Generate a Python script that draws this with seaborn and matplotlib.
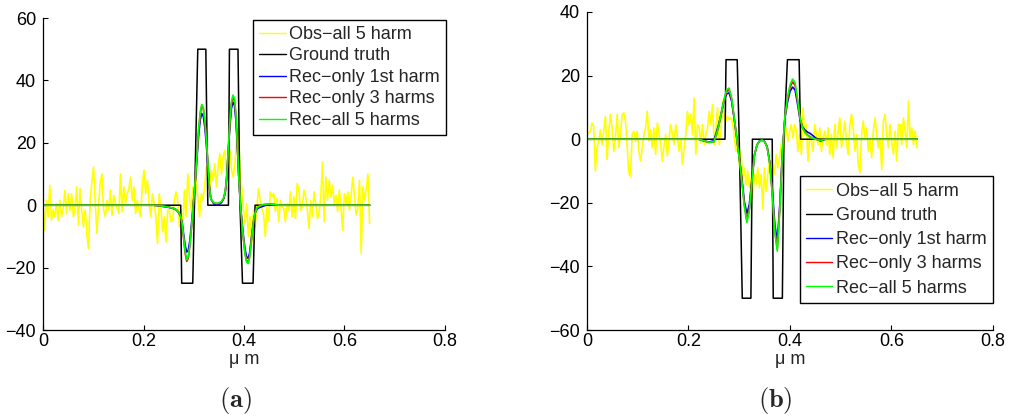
import numpy as np
import matplotlib
matplotlib.use("Agg")
import matplotlib.pyplot as plt
import seaborn as sns

# ---- data ----
series_labels = ['Obs\u2212all 5 harm', 'Ground truth', 'Rec\u2212only 1st harm',
                 'Rec\u2212only 3 harms', 'Rec\u2212all 5 harms']
series_colors = ['#ffff00', '#000000', '#0000ff', '#ff0000', '#00ff00']

# panel (a)
obs_a = [0.5, -8, 1.6, -3.7, 6.4, -4.8, -1.6, -3.7, 0.5, -4.8, 1.6, -3.7, -1, 4.8, -2.7, 3.7,
         -1.6, 3.7, -3.7, -1, 5.9, -6.4, 5.3, -1.6, -7, -1.6, -9, -13.9, 1.6, 7.5, 12.3, 0.5,
         -9, 0.5, 7.5, 10, -1.6, -3.7, 1.6, -1.6, 4.8, -3.2, 3.2, 0.5, -1, -2.7, 10, -2.1,
         5.9, 0.5, 3.7, 5.3, 9, 1.6, 5.9, -2.7, 1.6, -1.6, -3.7, 7, 11.2, 3.7, 8, 0.5,
         -3.7, 3.7, 0.5, -3.7, -12.3, 3.7, -0.5, -8.5, -3.7, -11.8, -1.6, -1.6, -5.3, -4.8,
         1.6, 4.3, 1.6, -7,
         -1.6, -8, 4.8, -3.7, 10, 2.7, -1.6, 5.9, 0.5, 9, 2.7, -3.7, 3.7, 1.6, 5.9, 12.3,
         10, 4.8, 11.2, 8, 13.4, 5.9, 12.3, 16.6, 10, 15.5, 17.6, 9, 14.4, 17.6, 11.2, 9,
         13.4, 20.8, 24, 11.2, 5.9, -0.5, -5.9, 0.5, -10, -3.7, -12.3, -1.6, -7,
         -0.5, 5.3, 1.6, -1, -2.7, -10, -0.5, -4.8, 4.3, 2.7, 3.7, -2.1, 2.1, -5.3, 1.6, -0.5,
         -1, -5.3, 0.5, -1.6, 4.3, -3.7, 2.7, -4.3, 7, 4.8, -1.6, -0.5, 4.8, 2.7, -1.6, -7.5,
         1.6, -3.7, 4.3, 0.5, -4.3, -2.1, 2.7, 13.9, -5.3, 9, 1.6, 8, 2.7, 6.4, 0.5, 3.2,
         -2.1, 4.8, -1, -8, 3.7, 0.5, 4.3, -1.6, 3.2, 9, 2.7, -3.2, -1, 8, -15.5, 5.9,
         1.6, 5.3, 10, -5.9]
gt_x_a = [0, 0.274, 0.276, 0.298, 0.308, 0.324, 0.328, 0.369, 0.371, 0.388, 0.392,
          0.397, 0.418, 0.422, 0.65]
gt_y_a = [0, 0, -25, -25, 50, 50, 0, 0, 50, 50, 0, -25, -25, 0, 0]
rec_x_a = [0, 0.22, 0.235, 0.25, 0.26, 0.265, 0.27,
           0.274, 0.277, 0.28, 0.283, 0.286, 0.289, 0.292, 0.295, 0.298,
           0.301, 0.304, 0.307, 0.31, 0.313, 0.316, 0.319, 0.322, 0.325, 0.328, 0.331, 0.334,
           0.34, 0.345, 0.35, 0.355, 0.36,
           0.363, 0.366, 0.369, 0.372, 0.375, 0.378, 0.381, 0.384, 0.387, 0.39, 0.393, 0.396,
           0.399, 0.402, 0.405, 0.408, 0.411, 0.414, 0.417, 0.42, 0.423, 0.426,
           0.43, 0.44, 0.45, 0.46, 0.47, 0.65]
rec1_a = [0, 0, -0.3, -0.7, -1.1, -1.5, -2.3,
          -3.5, -5.8, -9.5, -13, -15, -14.5, -11.5, -7, -1.5,
          4, 9.5, 16.5, 23, 27.5, 29.4, 28.5, 25, 19.5, 13, 6, 2,
          0.4, 0.2, 0.3, 0.8, 2.2,
          4.5, 9.5, 18, 25.5, 31, 33, 32, 27, 18, 7.5, 0, -5.5,
          -10, -14, -16.5, -17, -15.5, -11.5, -7.5, -4, -2.2, -1.2,
          -0.8, -0.2, 0.3, 0.2, 0, 0]
rec3_a = [0, 0, -0.2, -0.6, -1.0, -1.4, -2.3,
          -3.7, -6.3, -11, -15.5, -18, -17, -13.3, -8.2, -2.2,
          3.8, 9.8, 17.7, 24.5, 29.5, 31.8, 31, 27, 21, 14, 6, 2,
          0.7, 0.5, 0.6, 1.1, 2.4,
          4.8, 9.8, 18.5, 26.5, 32.5, 34.5, 33.5, 28.5, 18.7, 8, 0, -6,
          -11, -15.3, -17.8, -18.2, -16.6, -12.3, -8, -4, -2, -0.9,
          -0.4, 0.2, 0.4, 0.2, 0, 0]
rec5_a = [0, 0, -0.2, -0.6, -1.0, -1.4, -2.2,
          -3.5, -6, -10.5, -15, -17.5, -16.5, -13, -8, -2,
          4, 10, 18, 25, 30, 32.3, 31.3, 27.3, 21.2, 14, 6, 2,
          0.8, 0.6, 0.7, 1.2, 2.5,
          5, 10, 19, 27, 33.2, 35.3, 34.2, 29, 19, 8, 0, -6,
          -11, -15.5, -18.2, -18.7, -17, -12.5, -8, -4, -2, -0.8,
          -0.3, 0.3, 0.4, 0.2, 0, 0]

# panel (b)
obs_b = [1.5, 2, 2.5, 5.1, 4.1, -10, -2.7, -0.6, 3, -1.7, 2.5, 7.2, -6.4, 2.5, 7.8, 3.6,
         -3.8, 0.4, 7.8, -2.7, 1.5, 7.8, 8.3, 5.7, -2.7, -10.6, -11.6, 1.5, 2.5, -0.6, 2.5, -3.8,
         -6.9, -2.7, 1.5, 3.6, 8.8, -0.6, 3, -2.7, 3.6, -4.8, 5.1, 1.5, -1.2, -6.9, -2.2, 1.5,
         -5.3, 0, 4.6, 1.5, -1.7, 4.6, 0.9, -3.8, 0, -8, -2.7, 1.5, 8.8, 4.6, 7.8, 1.5,
         13, -4.8, 4.6, 3.6, -1.2, 4.6, -1.7, 1.5, 3.6, 8.8, 4.6, 10.9, -1.7,
         3.6, 9.9, -1.7, 2.5, 12, 6.7, 5.7, 7.2, 6.2, 6.7, 5.1, 0.4, -3.8, -0.6, -8, -3.8,
         -13.2, -9, -14.3, -10, -15.3, -12.2, -18.4, -11.1, -14.3, -9, -15.3, -11.1, -21.8, -9,
         -16.4, -11.1, -6.9, -13.2, -8, -11.1, -4.8, -9, -5.9, -1.7, -4.8, -0.6, 3.6, -0.6,
         2.5, 4.6, 0.4, 4.6, 2.5, -3.8, 1.5, -4.8, 9.9, 1.5, 4.6, -6.9, 1.5, -0.6, -3.8, 4.6,
         1.5, -1.7, 3.6, -3.8, 0.4, 2.5, -1.7, 3.6, -4.8, 1.5,
         -5.9, 4.6, -2.7, 2.5, 6.7, -2.7, 1.5, 5.7, -1.2, -4.8, 4.6, 7.8, 3.6, -3.8, 1.5, -8,
         -10.6, 1.5, 5.7, 0, 3.6, -3.8, 0.4, -5.9, 2.5, 6.7, 1.5, -2.7, 0.4, -9.5, 5.7, 7.8,
         1.5, -2.7, 4.6, -0.6, -4.8, 2.5, -6.9, 4.6, 4.6, -1.7, 6.7, 2.5, -2.7, 12, 0, 3.6,
         -1.7, 2.5, -2.7]
gt_x_b = [0, 0.272, 0.274, 0.296, 0.300, 0.306, 0.323, 0.326, 0.365, 0.367, 0.385,
          0.388, 0.395, 0.418, 0.421, 0.65]
gt_y_b = [0, 0, 25, 25, 0, -50, -50, 0, 0, -50, -50, 0, 25, 25, 0, 0]
rec_x_b = [0, 0.22, 0.23, 0.24, 0.25,
           0.255, 0.26, 0.265, 0.27, 0.275, 0.28, 0.285, 0.29, 0.295, 0.30, 0.305, 0.31,
           0.315, 0.32, 0.325, 0.33, 0.335, 0.34, 0.345, 0.35, 0.355, 0.36, 0.365, 0.37,
           0.375, 0.38, 0.385, 0.39, 0.395, 0.40, 0.405, 0.41, 0.415, 0.42, 0.425, 0.43,
           0.435, 0.44,
           0.45, 0.46, 0.47, 0.65]
rec1_b = [0, 0, -0.5, -0.9, -0.5,
          2.2, 5, 8.5, 12, 14.2, 14.6, 12, 6.5, 0.5, -5.5, -12, -19.5,
          -23.4, -20.5, -12.5, -5, -1.8, -0.5, -0.2, -0.7, -2.3, -7, -15.5, -26.5,
          -32.3, -20.5, -4.5, 6.5, 11.5, 15, 16.4, 15.5, 11, 6, 3.8, 2.8,
          2.2, 1.8,
          0.5, -0.6, 0, 0]
rec3_b = [0, 0, -0.5, -1, -0.8,
          1.4, 4.3, 8.2, 12, 15, 15.6, 12.6, 6.8, 0.5, -5.8, -12.6, -20.5,
          -25.5, -22, -13.2, -5, -1.8, -0.6, -0.3, -0.8, -2.5, -7.3, -16.6, -28.5,
          -34.5, -21.6, -4.5, 6.8, 12.5, 16.3, 18, 17, 12, 6.5, 3.6, 2.1,
          1.3, 0.7,
          0, -0.4, 0, 0]
rec5_b = [0, 0, -0.5, -1, -0.8,
          1.5, 4.5, 8.5, 12.5, 15.5, 16.1, 13, 7, 0.5, -6, -13, -21,
          -26.2, -22.5, -13.5, -5, -1.8, -0.6, -0.3, -0.8, -2.5, -7.5, -17, -29,
          -35.2, -22, -4.5, 7, 13, 17, 18.9, 17.8, 12.5, 6.5, 3.5, 2,
          1.2, 0.6,
          0, -0.4, 0, 0]

x_ticks = [0, 0.2, 0.4, 0.6, 0.8]
x_tick_labels = ['0', '0.2', '0.4', '0.6', '0.8']
y_ticks_a = [-40, -20, 0, 20, 40, 60]
y_ticks_b = [-60, -40, -20, 0, 20, 40]

# ---- figure ----
sns.set_style('ticks')
plt.rcParams['font.family'] = ['Liberation Sans', 'DejaVu Sans']
plt.rcParams['mathtext.fontset'] = 'cm'

fig = plt.figure(figsize=(10.15, 4.18), dpi=100)
ax_a = fig.add_axes([0.0424, 0.2105, 0.396, 0.7464])
ax_b = fig.add_axes([0.5783, 0.2105, 0.400, 0.7608])


def draw_panel(ax, obs, gt_x, gt_y, rec_x, recs, yticks, legend_loc, legend_anchor, spacing):
    obs_x = np.linspace(0, 0.65, len(obs))
    sns.lineplot(x=obs_x, y=obs, ax=ax, color=series_colors[0], lw=1.2,
                 estimator=None, sort=False, label=series_labels[0])
    sns.lineplot(x=gt_x, y=gt_y, ax=ax, color=series_colors[1], lw=1.1,
                 estimator=None, sort=False, label=series_labels[1])
    for rec, col, lab in zip(recs, series_colors[2:], series_labels[2:]):
        sns.lineplot(x=rec_x, y=rec, ax=ax, color=col, lw=1.2,
                     estimator=None, sort=False, label=lab)
    ax.set_xlim(0, 0.8)
    ax.set_ylim(yticks[0], yticks[-1])
    ax.set_xticks(x_ticks)
    ax.set_xticklabels(x_tick_labels)
    ax.set_yticks(yticks)
    ax.tick_params(direction='in', length=3.5, width=0.8, labelsize=13,
                   colors='black')
    ax.tick_params(axis='x', pad=2)
    ax.tick_params(axis='y', pad=5)
    sns.despine(ax=ax)
    for s in ['left', 'bottom']:
        ax.spines[s].set_linewidth(0.9)
        ax.spines[s].set_color('black')
    ax.set_xlabel('\u03bc m', fontsize=13, labelpad=1)
    ax.set_ylabel('')
    leg = ax.legend(loc=legend_loc, bbox_to_anchor=legend_anchor, borderaxespad=0,
                    fontsize=13, frameon=True, fancybox=False, framealpha=1,
                    edgecolor='black', handlelength=1.45, handletextpad=0.2,
                    labelspacing=spacing, borderpad=0.35)
    leg.get_frame().set_linewidth(1.0)
    for line in leg.get_lines():
        line.set_linewidth(1.0)


draw_panel(ax_a, obs_a, gt_x_a, gt_y_a, rec_x_a, [rec1_a, rec3_a, rec5_a],
           y_ticks_a, 'upper right', (1.003, 0.995), 0.25)
draw_panel(ax_b, obs_b, gt_x_b, gt_y_b, rec_x_b, [rec1_b, rec3_b, rec5_b],
           y_ticks_b, 'lower right', (1.0, 0.085), 0.40)

fig.text(0.2315, 0.043, r'$\mathbf{(a)}$', fontsize=19, ha='center', va='center')
fig.text(0.7635, 0.043, r'$\mathbf{(b)}$', fontsize=19, ha='center', va='center')

fig.savefig('out.png', dpi=100)
